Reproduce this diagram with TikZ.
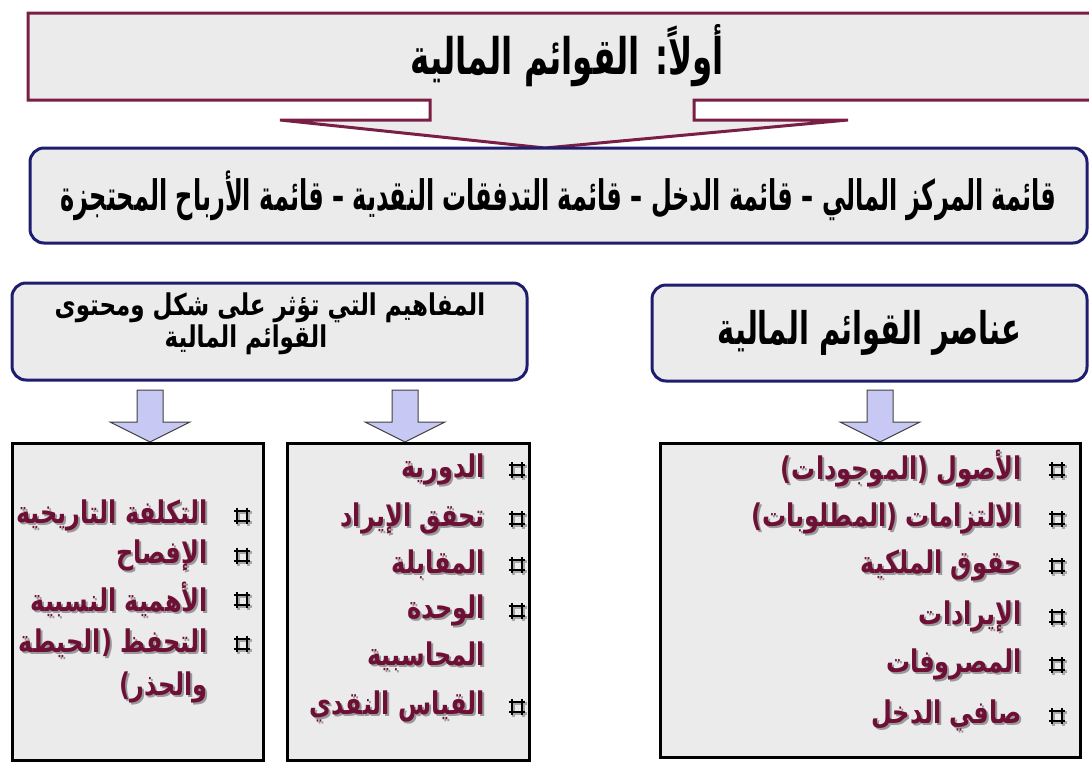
\documentclass[tikz,border=0pt]{standalone}
\usepackage{graphicx}
\usepackage{fontspec}
\newfontfamily\arabicfont[Script=Arabic]{DejaVu Sans}
\TeXXeTstate=1
\definecolor{maroonline}{HTML}{7A1E45}
\definecolor{navyline}{HTML}{1E1E6E}
\definecolor{panel}{HTML}{EBEBEB}
\definecolor{itemtext}{HTML}{6E0F35}
\definecolor{arrowfill}{HTML}{C8C8F4}
\definecolor{arrowline}{HTML}{404040}
% Arabic run, bold, right to left, drawn tall and narrow
\newcommand\ar[2][1.5]{\scalebox{1}[#1]{\arabicfont\bfseries\beginR #2\endR}}
% maroon list entry with a soft grey drop shadow
\newcommand\shadowed[1]{\leavevmode\rlap{\kern2pt\raisebox{-2pt}{\color{black!40}\ar[1.3]{#1}}}{\color{itemtext}\ar[1.3]{#1}}}
\tikzset{
  hdrbox/.style={draw=navyline, line width=3pt, rounded corners=14pt, fill=panel, inner sep=0pt},
  listbox/.style={draw=black, line width=3pt, fill=panel, inner sep=0pt},
  item/.style={anchor=east, inner sep=0pt, font=\fontsize{24}{28}\selectfont},
  bulletmark/.pic={
    \draw[black!35, line width=2.6pt, shift={(1.5,1.5)}] (-8,-5)--(8,-5) (-8,5)--(8,5) (-5,-8)--(-5,8) (5,-8)--(5,8);
    \draw[black, line width=2.6pt] (-8,-5)--(8,-5) (-8,5)--(8,5) (-5,-8)--(-5,8) (5,-8)--(5,8);
  },
  downarrow/.pic={
    \filldraw[fill=arrowfill, draw=arrowline, line width=1pt]
      (-13,0) -- (13,0) -- (13,32) -- (40,32) -- (0,52) -- (-40,32) -- (-13,32) -- cycle;
  }
}
\begin{document}
\begin{tikzpicture}[x=1pt, y=-1pt]
\useasboundingbox (0,0) rectangle (1089,763);

% title banner with its pointer
\filldraw[fill=panel, draw=maroonline, line width=3pt, line join=miter]
  (28,13) -- (1094,13) -- (1094,100) -- (694,100) -- (694,120) -- (848,120)
  -- (545,148) -- (280,120) -- (430,120) -- (430,100) -- (28,100) -- cycle;
\node (title) at (567,56) {\fontsize{32.5}{40}\selectfont\ar[1.55]{أولاً: القوائم المالية}};

% list of statements
\node[hdrbox, minimum width=1057pt, minimum height=95pt] (statements) at (558.5,195.5)
  {\fontsize{24}{28}\selectfont\ar[1.75]{قائمة المركز المالي – قائمة الدخل – قائمة التدفقات النقدية – قائمة الأرباح المحتجزة}};

% second-level headings
\node[hdrbox, minimum width=515pt, minimum height=97pt] (concepts) at (269.5,331.5) {};
\node[inner sep=0pt, anchor=base, font=\fontsize{23}{28}\selectfont] (conceptsA) at (270,315)
  {\ar[1.3]{المفاهيم التي تؤثر على شكل ومحتوى}};
\node[inner sep=0pt, anchor=base, font=\fontsize{23}{28}\selectfont] (conceptsB) at (246,347)
  {\ar[1.3]{القوائم المالية}};
\node[hdrbox, minimum width=435pt, minimum height=96pt] (elements) at (869.5,333)
  {\fontsize{29}{34}\selectfont\ar[1.55]{عناصر القوائم المالية}};

% arrows down to the lists
\pic at (150,390) {downarrow};
\pic at (405,390) {downarrow};
\pic at (880,390) {downarrow};

% list boxes
\node[listbox, minimum width=251pt, minimum height=317pt] (listL) at (137.5,601.5) {};
\node[listbox, minimum width=242pt, minimum height=317pt] (listM) at (408,601.5) {};
\node[listbox, minimum width=420pt, minimum height=314pt] (listR) at (870,600) {};

% elements of the financial statements
\node[item] (r1) at (1022,470) {\shadowed{الأصول (الموجودات)}};
\node[item] (r2) at (1022,519) {\shadowed{الالتزامات (المطلوبات)}};
\node[item] (r3) at (1022,566) {\shadowed{حقوق الملكية}};
\node[item] (r4) at (1022,617) {\shadowed{الإيرادات}};
\node[item] (r5) at (1022,665) {\shadowed{المصروفات}};
\node[item] (r6) at (1022,716) {\shadowed{صافي الدخل}};
\foreach \y in {470,519,566,617,665,716} \pic at (1057,\y) {bulletmark};

% concepts, first column
\node[item] (m1) at (485,470) {\shadowed{الدورية}};
\node[item] (m2) at (485,519) {\shadowed{تحقق الإيراد}};
\node[item] (m3) at (485,565) {\shadowed{المقابلة}};
\node[item] (m4) at (485,611) {\shadowed{الوحدة}};
\node[item] (m4b) at (485,657) {\shadowed{المحاسبية}};
\node[item] (m5) at (485,707) {\shadowed{القياس النقدي}};
\foreach \y in {470,519,565,611,707} \pic at (517,\y) {bulletmark};

% concepts, second column
\node[item] (l1) at (208,516) {\shadowed{التكلفة التاريخية}};
\node[item] (l2) at (208,556) {\shadowed{الإفصاح}};
\node[item] (l3) at (208,600) {\shadowed{الأهمية النسبية}};
\node[item] (l4) at (208,644) {\shadowed{التحفظ (الحيطة}};
\node[item] (l4b) at (208,688) {\shadowed{والحذر)}};
\foreach \y in {516,556,600,644} \pic at (242,\y) {bulletmark};
\end{tikzpicture}
\end{document}
